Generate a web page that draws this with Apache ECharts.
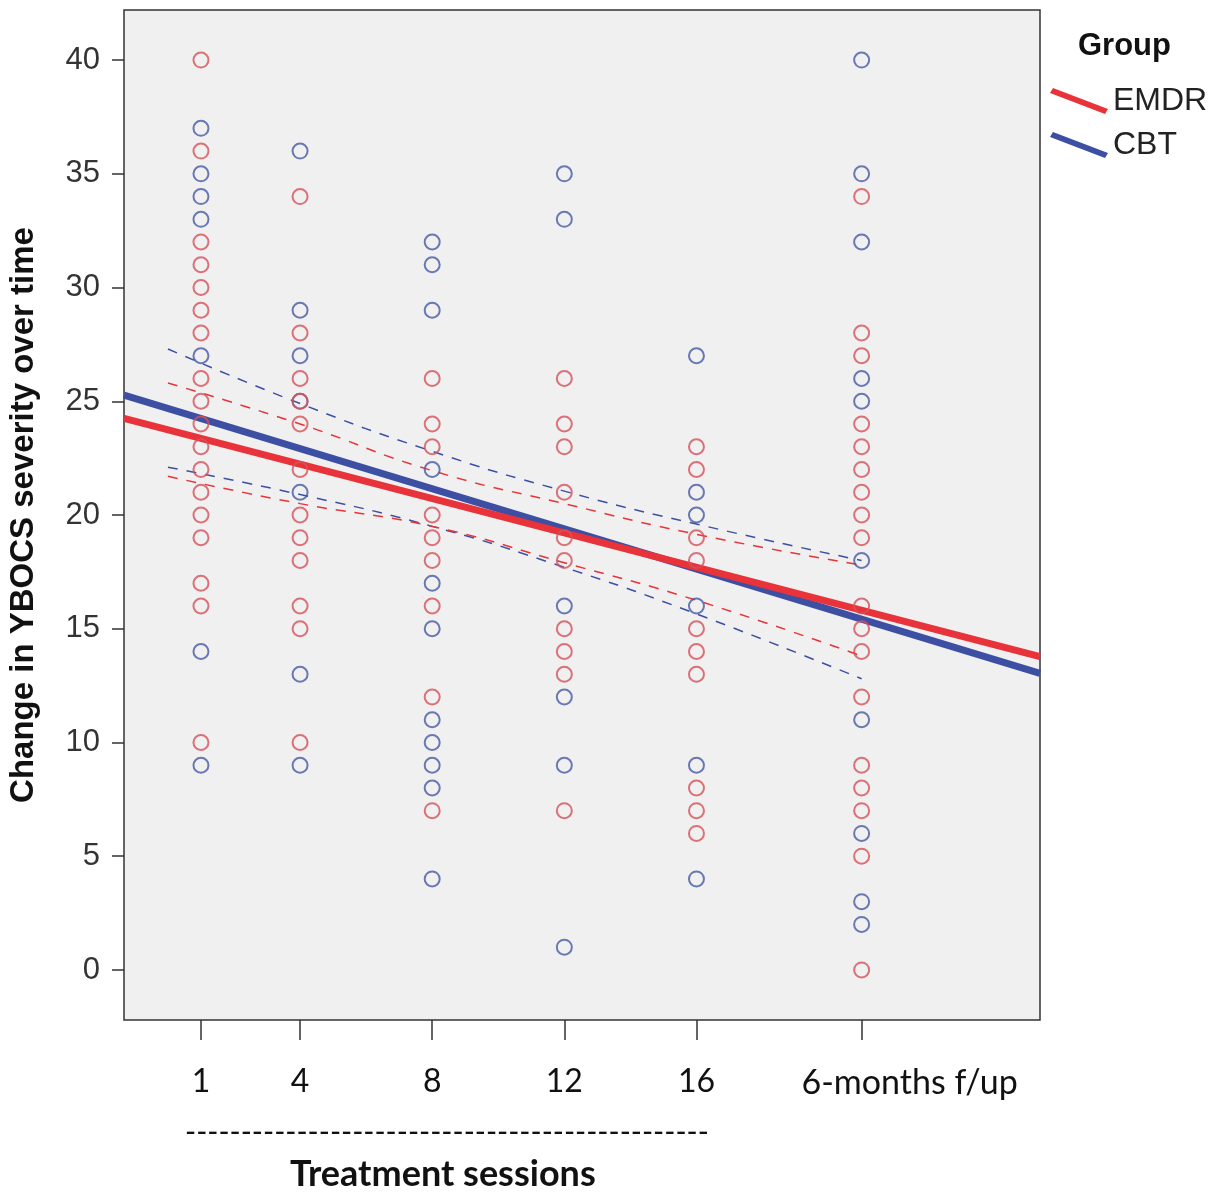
<!DOCTYPE html>
<html>
<head>
<meta charset="utf-8">
<script src="https://cdn.jsdelivr.net/npm/echarts@6/dist/echarts.min.js"></script>
<style>
  html, body { margin: 0; padding: 0; background: #fff; }
  #chart { width: 1227px; height: 1195px; }
</style>
</head>
<body>
<div id="chart"></div>
<script>
// session positions on the x scale and their labels
const sessions = [1, 4, 8, 12, 16, 21];
const sessionLabels = ['1', '4', '8', '12', '16', '6-months f/up'];
const yTicks = [0, 5, 10, 15, 20, 25, 30, 35, 40];

// YBOCS scores per session (one list per session)
const emdrScores = [
  [40, 36, 32, 31, 30, 29, 28, 26, 25, 24, 23, 22, 21, 20, 19, 17, 16, 10],
  [34, 28, 26, 25, 24, 22, 20, 19, 18, 16, 15, 10],
  [26, 24, 23, 20, 19, 18, 16, 12, 7],
  [26, 24, 23, 21, 19, 18, 15, 14, 13, 7],
  [23, 22, 19, 18, 15, 14, 13, 8, 7, 6],
  [34, 28, 27, 24, 23, 22, 21, 20, 19, 16, 15, 14, 12, 9, 8, 7, 5, 0]
];
const cbtScores = [
  [37, 35, 34, 33, 27, 14, 9],
  [36, 29, 27, 25, 21, 13, 9],
  [32, 31, 29, 22, 17, 15, 11, 10, 9, 8, 4],
  [35, 33, 16, 12, 9, 1],
  [27, 21, 20, 16, 9, 4],
  [40, 35, 32, 26, 25, 18, 11, 6, 3, 2]
];

// fitted lines (read at the plot edges)
const fitX = [-1.33, 26.4];
const emdrFit = [24.25, 13.77];
const cbtFit = [25.27, 13.04];

// confidence bands
const ciX = [0, 4, 8, 12, 16, 21];
const emdrUpper = [25.8, 24.0, 21.95, 20.5, 19.15, 17.8];
const emdrLower = [21.7, 20.5, 19.5, 17.9, 16.25, 13.8];
const cbtUpper = [27.3, 24.9, 22.8, 21.05, 19.6, 18.0];
const cbtLower = [22.1, 20.9, 19.5, 17.7, 15.65, 12.8];

const RED = '#e8333a', BLUE = '#3d4fa3';
const RED_PT = '#d6515a', BLUE_PT = '#475aa3';

function points(scores) {
  var out = [];
  scores.forEach(function (list, i) {
    list.forEach(function (v) { out.push([sessions[i], v]); });
  });
  return out;
}
function pairs(xs, ys) {
  return xs.map(function (x, i) { return [x, ys[i]]; });
}
function ciLine(name, data, color) {
  return {
    name: name, type: 'line', data: pairs(ciX, data), smooth: true,
    showSymbol: false, silent: true, z: 2,
    lineStyle: { color: color, width: 1.5, type: [10, 9] }
  };
}

var myChart = echarts.init(document.getElementById('chart'));

var option = {
  animation: false,
  backgroundColor: '#fff',
  grid: {
    left: 124, right: 187, top: 10, bottom: 175,
    outerBoundsMode: 'none', containLabel: false,
    show: true, backgroundColor: '#f0f0f0', borderColor: '#333', borderWidth: 1.5
  },
  title: {
    text: 'Group', left: 1073, top: 26,
    textStyle: { fontFamily: 'Liberation Sans', fontWeight: 'bold', fontSize: 31, color: '#111' }
  },
  legend: {
    orient: 'vertical', left: 1045, top: 80,
    itemWidth: 58, itemHeight: 26, itemGap: 12,
    icon: 'path://M3,0 L58,21 L55,26 L0,5 Z',
    textStyle: { fontFamily: 'Liberation Sans', fontSize: 32, color: '#222' },
    data: [
      { name: 'EMDR', itemStyle: { color: RED } },
      { name: 'CBT', itemStyle: { color: BLUE } }
    ]
  },
  xAxis: {
    type: 'value', min: -1.33, max: 26.4,
    splitLine: { show: false },
    axisLine: { show: false, onZero: false },
    axisTick: { show: true, customValues: sessions, length: 20, lineStyle: { color: '#333', width: 1.5 } },
    axisLabel: {
      customValues: sessions, margin: 46,
      fontFamily: 'Lato', fontSize: 32, color: '#111',
      formatter: function (v) {
        var i = sessions.indexOf(v);
        if (i === sessions.length - 1) return '{f|' + sessionLabels[i] + '}';
        return i >= 0 ? sessionLabels[i] : '';
      },
      rich: { f: { fontFamily: 'Lato', fontSize: 34, color: '#111', padding: [0, 0, 0, 96] } }
    }
  },
  yAxis: {
    type: 'value', min: -2.2, max: 42.2,
    splitLine: { show: false },
    axisLine: { show: false, onZero: false },
    axisTick: { show: true, customValues: yTicks, length: 12, lineStyle: { color: '#333', width: 1.5 } },
    axisLabel: { customValues: yTicks, margin: 24, fontFamily: 'Liberation Sans', fontSize: 31, color: '#333' },
    name: 'Change in YBOCS severity over time',
    nameLocation: 'middle', nameGap: 84,
    nameTextStyle: { fontFamily: 'Liberation Sans', fontWeight: 'bold', fontSize: 33, color: '#111' }
  },
  graphic: [
    {
      type: 'text', left: 185, top: 1117,
      style: { text: '-----------------------------------------------', fontFamily: 'Lato', fontSize: 30, fill: '#111' }
    },
    {
      type: 'text', left: 290, top: 1156,
      style: { text: 'Treatment sessions', fontFamily: 'Lato', fontWeight: 'bold', fontSize: 36, fill: '#111' }
    }
  ],
  series: [
    ciLine('cbtUp', cbtUpper, BLUE),
    ciLine('cbtLo', cbtLower, BLUE),
    ciLine('emdrUp', emdrUpper, RED),
    ciLine('emdrLo', emdrLower, RED),
    {
      name: 'CBT', type: 'line', data: pairs(fitX, cbtFit), showSymbol: false, z: 3,
      lineStyle: { color: BLUE, width: 7 }, itemStyle: { color: BLUE }
    },
    {
      name: 'EMDR', type: 'line', data: pairs(fitX, emdrFit), showSymbol: false, z: 4,
      lineStyle: { color: RED, width: 7 }, itemStyle: { color: RED }
    },
    {
      name: 'CBT points', type: 'scatter', data: points(cbtScores), symbolSize: 15, z: 5,
      itemStyle: { color: 'rgba(0,0,0,0)', borderColor: BLUE_PT, borderWidth: 2 }
    },
    {
      name: 'EMDR points', type: 'scatter', data: points(emdrScores), symbolSize: 15, z: 5,
      itemStyle: { color: 'rgba(0,0,0,0)', borderColor: RED_PT, borderWidth: 2 }
    }
  ]
};

myChart.setOption(option);
window.addEventListener('resize', function () {
  myChart.resize();
});
</script>
</body>
</html>
